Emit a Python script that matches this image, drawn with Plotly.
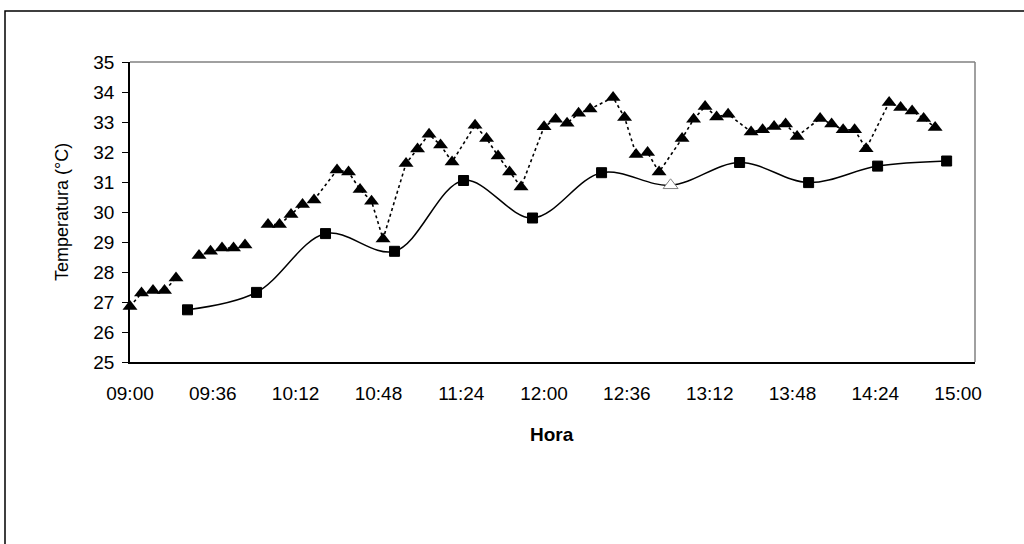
import plotly.graph_objects as go

# Reading times (every 5 minutes)
horas = ["09:00", "09:05", "09:10", "09:15", "09:20", "09:25", "09:30", "09:35", "09:40", "09:45",
         "09:50", "09:55", "10:00", "10:05", "10:10", "10:15", "10:20", "10:25", "10:30", "10:35",
         "10:40", "10:45", "10:50", "10:55", "11:00", "11:05", "11:10", "11:15", "11:20", "11:25",
         "11:30", "11:35", "11:40", "11:45", "11:50", "11:55", "12:00", "12:05", "12:10", "12:15",
         "12:20", "12:25", "12:30", "12:35", "12:40", "12:45", "12:50", "12:55", "13:00", "13:05",
         "13:10", "13:15", "13:20", "13:25", "13:30", "13:35", "13:40", "13:45", "13:50", "13:55",
         "14:00", "14:05", "14:10", "14:15", "14:20", "14:25", "14:30", "14:35", "14:40", "14:45",
         "14:50", "14:55"]

# Series with triangle markers (None = no reading)
temp_triangulo = [26.85, 27.30, 27.38, 27.38, 27.80, None, 28.55, 28.69, 28.80, 28.80, 28.90, None,
                  29.58, 29.58, 29.92, 30.25, 30.40, None, 31.40, 31.33, 30.75, 30.36, 29.10, None,
                  31.62, 32.10, 32.59, 32.23, 31.67, None, 32.89, 32.45, 31.87, 31.33, 30.83, None,
                  32.84, 33.09, 32.96, 33.29, 33.43, None, 33.82, 33.15, 31.92, 31.98, 31.33, None,
                  32.45, 33.09, 33.52, 33.17, 33.26, None, 32.67, 32.74, 32.85, 32.93, 32.52, None,
                  33.12, 32.93, 32.74, 32.74, 32.11, None, 33.65, 33.48, 33.37, 33.12, 32.82, None]
# Missing readings where the dotted line is interrupted
cortes = ["09:25", "09:55"]

# Series with square markers (every half hour)
horas_cuadrado = ["09:25", "09:55", "10:25", "10:55", "11:25", "11:55",
                  "12:25", "12:55", "13:25", "13:55", "14:25", "14:55"]
temp_cuadrado = [26.74, 27.32, 29.28, 28.69, 31.05, 29.80, 31.31, 30.89, 31.65, 30.98, 31.53, 31.70]
# Reading drawn with an open triangle
punto_abierto = "12:55"

DIA = "2000-01-01 "

# Triangle line: skip empty readings, break the line only at the cuts
tx, ty = [], []
for h, v in zip(horas, temp_triangulo):
    if v is None:
        if h in cortes:
            tx.append(None)
            ty.append(None)
        continue
    tx.append(DIA + h)
    ty.append(v)

sx = [DIA + h for h in horas_cuadrado]
simbolos = ["triangle-up" if h == punto_abierto else "square" for h in horas_cuadrado]
rellenos = ["white" if h == punto_abierto else "black" for h in horas_cuadrado]
bordes = ["#808080" if h == punto_abierto else "black" for h in horas_cuadrado]
tamanos = [13 if h == punto_abierto else 10 for h in horas_cuadrado]

FONT = "Liberation Sans, Arial, sans-serif"

fig = go.Figure()
fig.add_trace(go.Scatter(
    x=tx, y=ty, mode="lines+markers", connectgaps=False,
    line=dict(color="black", width=1.6, dash="dot"),
    marker=dict(symbol="triangle-up", size=13, color="black", opacity=1),
    showlegend=False, cliponaxis=False,
))
fig.add_trace(go.Scatter(
    x=sx, y=temp_cuadrado, mode="lines+markers",
    line=dict(color="black", width=1.5, shape="spline", smoothing=1.0),
    marker=dict(symbol=simbolos, size=tamanos, color=rellenos, opacity=1,
                line=dict(color=bordes, width=1)),
    showlegend=False, cliponaxis=False,
))

fig.update_layout(
    width=1024, height=544,
    margin=dict(l=130, r=49, t=62, b=182),
    paper_bgcolor="white", plot_bgcolor="white",
    font=dict(family=FONT, size=19, color="black"),
    xaxis=dict(
        type="date",
        range=[DIA + "09:00", DIA + "15:07:20"],
        tick0=DIA + "09:00", dtick=36 * 60 * 1000, tickformat="%H:%M",
        showgrid=False, zeroline=False,
        showline=True, linecolor="black", linewidth=1.5, mirror=False,
        ticks="outside", ticklen=13, tickcolor="rgba(0,0,0,0)",
        tickfont=dict(family=FONT, size=19),
    ),
    yaxis=dict(
        range=[25, 35], dtick=1, showgrid=False, zeroline=False,
        showline=True, linecolor="black", linewidth=1.5,
        ticks="outside", ticklen=6, tickcolor="black", tickwidth=1,
        ticklabelstandoff=4,
        tickfont=dict(family=FONT, size=19),
    ),
    shapes=[
        # gray top and right edges of the plot area
        dict(type="line", xref="paper", yref="paper", x0=0, x1=1, y0=1, y1=1,
             line=dict(color="#808080", width=1.5)),
        dict(type="line", xref="paper", yref="paper", x0=1, x1=1, y0=0, y1=1,
             line=dict(color="#808080", width=1.5)),
        # outer chart frame
        dict(type="rect", xref="paper", yref="paper",
             x0=(5 - 130) / 845, x1=(1040 - 130) / 845,
             y0=(362 - 560) / 300, y1=(362 - 11) / 300,
             line=dict(color="black", width=1.5), fillcolor="rgba(0,0,0,0)", layer="below"),
    ],
    annotations=[
        dict(text="Temperatura (°C)", xref="paper", yref="paper",
             x=(62 - 130) / 845, y=(362 - 212) / 300, textangle=-90,
             showarrow=False, font=dict(family=FONT, size=18),
             xanchor="center", yanchor="middle"),
        dict(text="<b>Hora</b>", xref="paper", yref="paper",
             x=(552 - 130) / 845, y=(362 - 434) / 300,
             showarrow=False, font=dict(family=FONT, size=19),
             xanchor="center", yanchor="middle"),
    ],
)

fig.write_html("out.html")
